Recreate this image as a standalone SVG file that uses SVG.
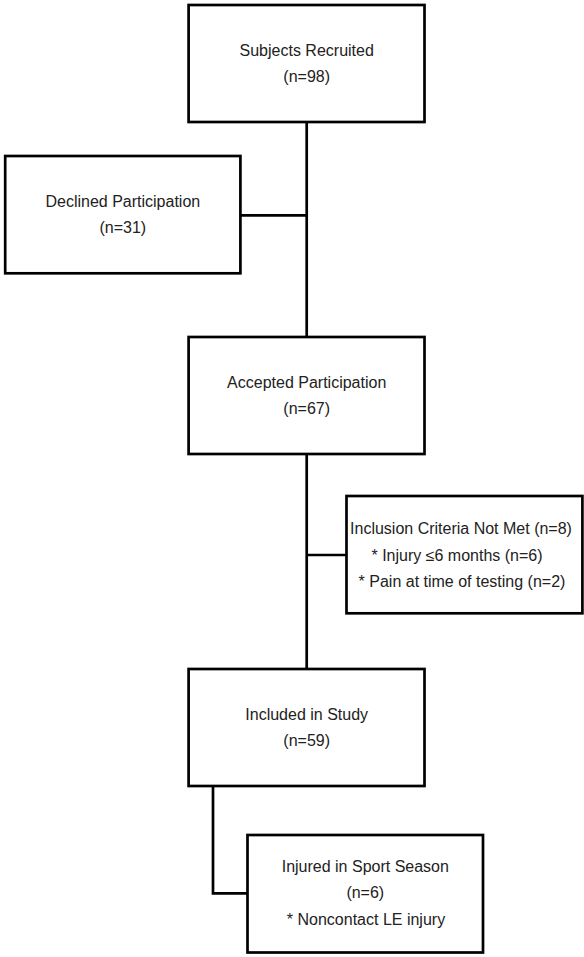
<svg xmlns="http://www.w3.org/2000/svg" width="584" height="957" viewBox="0 0 584 957">
<style>
.box{fill:#fff;stroke:#000;stroke-width:2.7}
.conn{fill:none;stroke:#000;stroke-width:2.7}
text{font-family:"Liberation Sans",Arial,sans-serif;font-size:16px;fill:#222;text-anchor:middle}
</style>
<rect width="584" height="957" fill="#fff"/>
<g id="connectors">
<path class="conn" d="M306.7 122 V669"/>
<path class="conn" d="M240 215.3 H306.7"/>
<path class="conn" d="M306.7 555 H346.5"/>
<path class="conn" d="M213 786 V893.3 H247.5"/>
</g>
<g id="recruited">
<rect class="box" x="188.6" y="5" width="235.9" height="117"/>
<text x="306.7" y="55.7">Subjects Recruited</text>
<text x="306.7" y="82.3">(n=98)</text>
</g>
<g id="declined">
<rect class="box" x="5.2" y="156" width="235.2" height="117.3"/>
<text x="122.8" y="206.7">Declined Participation</text>
<text x="122.8" y="233.3">(n=31)</text>
</g>
<g id="accepted">
<rect class="box" x="188.6" y="337" width="235.9" height="117"/>
<text x="306.7" y="387.7">Accepted Participation</text>
<text x="306.7" y="414.3">(n=67)</text>
</g>
<g id="exclusion">
<rect class="box" x="346.5" y="496" width="235.9" height="117.3"/>
<text x="461" y="534">Inclusion Criteria Not Met (n=8)</text>
<text x="457" y="560.5">* Injury ≤6 months (n=6)</text>
<text x="462" y="587">* Pain at time of testing (n=2)</text>
</g>
<g id="included">
<rect class="box" x="188.6" y="669" width="235.9" height="117"/>
<text x="306.7" y="719.5">Included in Study</text>
<text x="306.7" y="746.2">(n=59)</text>
</g>
<g id="injured">
<rect class="box" x="247.5" y="835" width="235.5" height="117.5"/>
<text x="365.3" y="871.7">Injured in Sport Season</text>
<text x="365.3" y="898.3">(n=6)</text>
<text x="366" y="925">* Noncontact LE injury</text>
</g>
</svg>
